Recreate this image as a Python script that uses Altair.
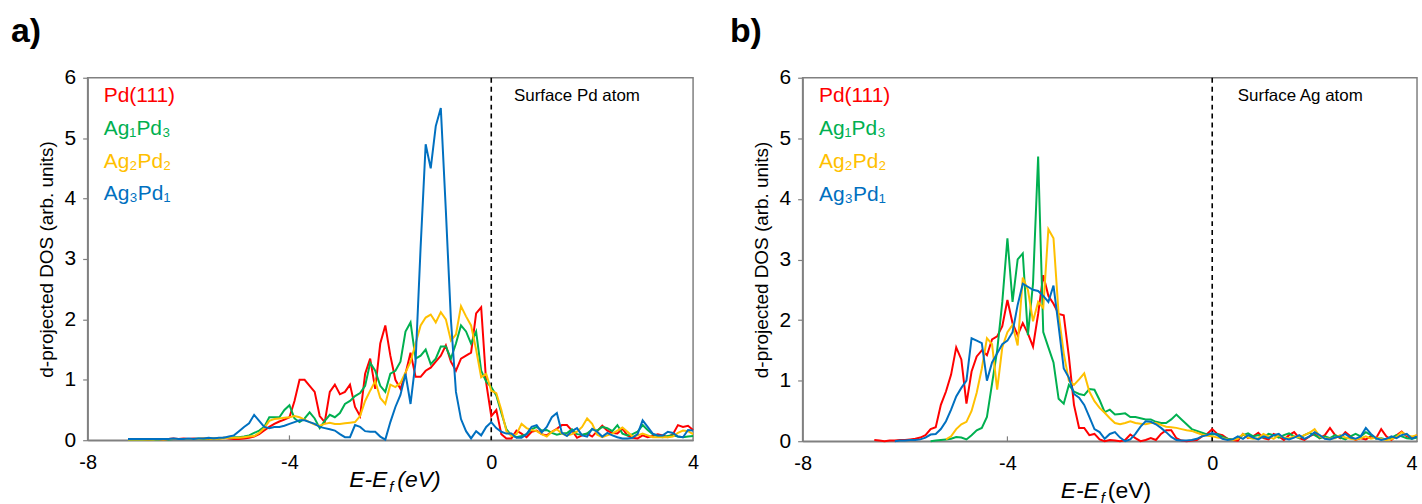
import altair as alt
import pandas as pd

FONT = "Liberation Sans"
GRAY = "#808080"

# energy grid (eV), -7.2 ... 4.0 in 0.1 steps
ENERGY = [round(-7.2 + 0.1 * i, 1) for i in range(113)]

SERIES = ["Pd(111)", "Ag\u2081Pd\u2083", "Ag\u2082Pd\u2082", "Ag\u2083Pd\u2081"]
COLORS = ["#FF0000", "#00B050", "#FFC000", "#0070C0"]
LEGEND_Y = [5.70, 5.15, 4.61, 4.07]
X_TICKS = [-8, -4, 0, 4]
Y_TICKS = [0, 1, 2, 3, 4, 5, 6]
N = None

# ---------------- panel a : surface Pd atom ----------------
A_RED = [
    0.02, 0.02,
    0.02, 0.02, 0.01, 0.02, 0.02, 0.01, 0.02, 0.03, 0.02, 0.03,
    0.02, 0.03, 0.02, 0.03, 0.02, 0.03, 0.03, 0.04, 0.03, 0.02,
    0.02, 0.03, 0.04, 0.06, 0.10, 0.16, 0.22, 0.27, 0.31, 0.34,
    0.38, 0.65, 1.00, 1.00, 0.90, 0.80, 0.40, 0.30, 0.80, 0.92,
    0.76, 0.80, 0.92, 0.55, 0.40, 1.10, 1.35, 0.85, 1.60, 1.90,
    1.40, 1.00, 0.85, 1.10, 1.45, 1.05, 1.05, 1.15, 1.20, 1.30,
    1.40, 1.57, 1.30, 1.15, 1.35, 1.40, 1.45, 2.10, 2.20, 0.95,
    0.40, 0.50, 0.10, 0.03, 0.03, 0.16, 0.11, 0.05, 0.14, 0.16,
    0.10, 0.08, 0.14, 0.19, 0.25, 0.25, 0.16, 0.04, 0.08, 0.11,
    0.06, 0.15, 0.24, 0.16, 0.12, 0.11, 0.19, 0.08, 0.04, 0.03,
    0.08, 0.05, 0.07, 0.10, 0.08, 0.05, 0.10, 0.25, 0.22, 0.24,
    0.17,
]
A_GREEN = [
    0.01, 0.01,
    0.01, 0.01, 0.01, 0.01, 0.01, 0.02, 0.01, 0.02, 0.02, 0.02,
    0.02, 0.02, 0.03, 0.02, 0.03, 0.03, 0.03, 0.04, 0.04, 0.05,
    0.05, 0.06, 0.08, 0.12, 0.16, 0.22, 0.38, 0.38, 0.38, 0.50,
    0.58, 0.36, 0.30, 0.36, 0.46, 0.36, 0.20, 0.32, 0.42, 0.38,
    0.45, 0.60, 0.65, 0.73, 0.78, 0.90, 1.28, 1.15, 0.90, 0.80,
    1.10, 1.15, 1.30, 1.80, 1.95, 1.35, 1.40, 1.50, 1.26, 1.35,
    1.55, 1.55, 1.35, 1.60, 1.90, 1.80, 1.60, 1.80, 1.15, 0.97,
    0.88, 0.74, 0.45, 0.18, 0.08, 0.05, 0.07, 0.10, 0.18, 0.22,
    0.16, 0.17, 0.12, 0.09, 0.11, 0.12, 0.18, 0.10, 0.09, 0.11,
    0.18, 0.16, 0.22, 0.20, 0.15, 0.25, 0.11, 0.08, 0.10, 0.14,
    0.25, 0.17, 0.10, 0.06, 0.05, 0.07, 0.08, 0.06, 0.05, 0.06,
    0.07,
]
A_YELLOW = [
    0.01, 0.01,
    0.01, 0.01, 0.01, 0.01, 0.02, 0.01, 0.02, 0.02, 0.02, 0.02,
    0.02, 0.02, 0.02, 0.03, 0.03, 0.02, 0.03, 0.03, 0.04, 0.04,
    0.04, 0.05, 0.06, 0.07, 0.12, 0.20, 0.32, 0.35, 0.36, 0.37,
    0.38, 0.40, 0.38, 0.34, 0.30, 0.26, 0.24, 0.27, 0.29, 0.27,
    0.27, 0.28, 0.29, 0.30, 0.40, 0.65, 0.82, 0.98, 0.70, 0.60,
    0.92, 0.88, 0.95, 1.12, 1.30, 1.60, 1.90, 2.03, 2.08, 1.95,
    2.12, 2.00, 1.65, 1.75, 2.22, 2.05, 1.90, 1.50, 1.04, 1.10,
    0.82, 0.78, 0.50, 0.15, 0.07, 0.10, 0.27, 0.20, 0.17, 0.15,
    0.10, 0.06, 0.14, 0.18, 0.11, 0.08, 0.10, 0.14, 0.22, 0.36,
    0.27, 0.09, 0.05, 0.08, 0.11, 0.16, 0.21, 0.14, 0.06, 0.08,
    0.11, 0.08, 0.05, 0.05, 0.05, 0.05, 0.06, 0.12, 0.16, 0.15,
    0.10,
]
A_BLUE = [
    0.02, 0.02,
    0.02, 0.02, 0.02, 0.02, 0.02, 0.02, 0.02, 0.03, 0.02, 0.02,
    0.03, 0.02, 0.03, 0.03, 0.04, 0.03, 0.04, 0.04, 0.06, 0.08,
    0.15, 0.22, 0.28, 0.42, 0.32, 0.22, 0.20, 0.22, 0.22, 0.24,
    0.27, 0.30, 0.33, 0.33, 0.30, 0.27, 0.22, 0.20, 0.18, 0.16,
    0.10, 0.05, 0.05, 0.25, 0.22, 0.15, 0.14, 0.14, 0.06, 0.01,
    0.30, 0.55, 0.75, 1.10, 0.60, 1.30, 3.20, 4.90, 4.50, 5.20,
    5.50, 3.80, 2.00, 0.80, 0.35, 0.15, 0.03, 0.15, 0.08, 0.22,
    0.30, 0.20, 0.14, 0.11, 0.11, 0.04, 0.04, 0.10, 0.22, 0.25,
    0.13, 0.22, 0.38, 0.45, 0.12, 0.07, 0.15, 0.20, 0.08, 0.06,
    0.19, 0.14, 0.06, 0.12, 0.08, 0.05, 0.03, 0.03, 0.04, 0.10,
    0.33, 0.22, 0.11, 0.08, 0.08, 0.14, 0.12, 0.06, 0.05, 0.17,
    0.16,
]

# ---------------- panel b : surface Ag atom ----------------
B_RED = [
    N, N,
    N, N, N, N, 0.02, 0.01, 0.00, 0.01, 0.01, 0.02,
    0.02, 0.03, 0.04, 0.06, 0.10, 0.20, 0.23, 0.60, 0.82, 1.10,
    1.55, 1.35, 0.62, 1.15, 1.40, 1.50, 1.42, 1.68, 1.73, 1.90,
    2.33, 1.95, 1.75, 1.95, 1.78, 1.56, 2.10, 2.74, 2.40, 2.27,
    2.10, 2.08, 1.40, 0.60, 0.22, 0.22, 0.10, 0.12, 0.03, 0.00,
    0.02, 0.01, 0.00, 0.02, 0.11, 0.05, 0.00, 0.02, 0.05, 0.02,
    0.12, 0.18, 0.18, 0.05, 0.01, 0.00, 0.01, 0.02, 0.08, 0.12,
    0.20, 0.12, 0.10, 0.04, 0.02, 0.01, 0.12, 0.05, 0.08, 0.14,
    0.05, 0.03, 0.12, 0.08, 0.02, 0.10, 0.15, 0.05, 0.02, 0.08,
    0.12, 0.05, 0.10, 0.22, 0.10, 0.05, 0.15, 0.08, 0.02, 0.05,
    0.03, 0.08, 0.05, 0.20, 0.08, 0.02, 0.10, 0.16, 0.08, 0.05,
    0.10,
]
B_GREEN = [
    N, N,
    N, N, N, N, N, N, N, N, N, N,
    N, N, N, N, N, 0.00, 0.01, 0.02, 0.03, 0.04,
    0.07, 0.06, 0.03, 0.10, 0.18, 0.22, 0.40, 0.95, 1.50, 2.30,
    3.35, 2.30, 3.00, 3.10, 1.75, 2.60, 4.70, 1.80, 1.55, 1.30,
    0.70, 0.62, 0.93, 0.82, 0.78, 0.76, 0.86, 0.85, 0.68, 0.48,
    0.52, 0.44, 0.45, 0.46, 0.40, 0.40, 0.38, 0.36, 0.36, 0.32,
    0.30, 0.30, 0.36, 0.44, 0.36, 0.28, 0.20, 0.17, 0.14, 0.11,
    0.11, 0.12, 0.07, 0.04, 0.03, 0.06, 0.10, 0.13, 0.08, 0.10,
    0.06, 0.12, 0.10, 0.06, 0.10, 0.13, 0.08, 0.05, 0.10, 0.14,
    0.10, 0.05, 0.08, 0.05, 0.10, 0.06, 0.03, 0.08, 0.12, 0.08,
    0.15, 0.10, 0.04, 0.05, 0.03, 0.06, 0.10, 0.08, 0.05, 0.04,
    0.06,
]
B_YELLOW = [
    N, N,
    N, N, N, N, N, N, N, N, N, N,
    N, N, N, N, N, N, N, N, 0.03, 0.08,
    0.20, 0.28, 0.32, 0.50, 0.80, 1.20, 1.70, 1.60, 0.85, 1.55,
    1.80, 1.92, 1.58, 2.70, 2.50, 1.98, 2.30, 2.20, 3.50, 3.35,
    2.10, 1.45, 1.00, 0.93, 1.02, 1.12, 0.82, 0.66, 0.55, 0.47,
    0.38, 0.30, 0.28, 0.30, 0.33, 0.30, 0.29, 0.28, 0.30, 0.30,
    0.27, 0.24, 0.23, 0.22, 0.20, 0.18, 0.17, 0.14, 0.11, 0.09,
    0.08, 0.06, 0.05, 0.03, 0.02, 0.04, 0.12, 0.06, 0.04, 0.05,
    0.12, 0.08, 0.04, 0.10, 0.06, 0.05, 0.08, 0.06, 0.10, 0.14,
    0.20, 0.08, 0.05, 0.04, 0.05, 0.10, 0.06, 0.04, 0.03, 0.05,
    0.08, 0.04, 0.06, 0.04, 0.02, 0.03, 0.07, 0.15, 0.10, 0.08,
    0.10,
]
B_BLUE = [
    N, N,
    N, N, N, N, N, N, N, N, 0.00, 0.01,
    0.01, 0.02, 0.02, 0.03, 0.06, 0.11, 0.12, 0.20, 0.33, 0.52,
    0.74, 0.88, 1.00, 1.70, 1.66, 1.62, 1.00, 1.30, 1.45, 1.60,
    1.66, 1.80, 2.25, 2.60, 2.55, 2.50, 2.48, 2.40, 2.30, 2.57,
    1.90, 1.20, 1.05, 0.78, 0.72, 0.60, 0.40, 0.20, 0.15, 0.04,
    0.12, 0.15, 0.06, 0.00, 0.03, 0.12, 0.24, 0.33, 0.32, 0.28,
    0.22, 0.15, 0.07, 0.02, 0.01, 0.01, 0.02, 0.04, 0.08, 0.10,
    0.14, 0.10, 0.04, 0.02, 0.03, 0.08, 0.04, 0.10, 0.06, 0.03,
    0.08, 0.05, 0.10, 0.12, 0.05, 0.03, 0.06, 0.10, 0.04, 0.08,
    0.15, 0.10, 0.04, 0.03, 0.06, 0.08, 0.12, 0.06, 0.04, 0.08,
    0.22, 0.12, 0.05, 0.02, 0.04, 0.08, 0.05, 0.10, 0.12, 0.04,
    0.08,
]


def make_panel(series_vals, note, letter, W, H, ev_italic, title_y, dxs, right_align_last):
    label_align = "center"
    if right_align_last:
        label_align = alt.condition("datum.value == 4", alt.value("right"), alt.value("center"))
    ax_x = alt.Axis(values=X_TICKS, title=None, grid=False, ticks=False,
                    labelFontSize=20, labelFont=FONT, labelColor="black",
                    labelPadding=12, labelExpr="'' + datum.value",
                    labelAlign=label_align,
                    domainColor=GRAY, domainWidth=1.5)
    ax_y = alt.Axis(values=Y_TICKS, title="d-projected DOS (arb. units)", grid=False,
                    tickSize=5, tickColor=GRAY, tickWidth=1.2,
                    labelFontSize=21, labelFont=FONT, labelColor="black", labelPadding=7,
                    titleFontSize=19, titleFont=FONT, titleFontWeight="normal",
                    titleColor="black", titlePadding=8,
                    domainColor=GRAY, domainWidth=1.5)
    X = alt.X("E:Q", scale=alt.Scale(domain=[-8, 4], nice=False, zero=False), axis=ax_x)
    Y = alt.Y("dos:Q", scale=alt.Scale(domain=[0, 6], nice=False), axis=ax_y)

    layers = []
    # inner x ticks
    tick_df = pd.DataFrame({"E": [-4, 0], "dos": [0, 0], "dos2": [0.08, 0.08]})
    layers.append(alt.Chart(tick_df).mark_rule(color=GRAY, strokeWidth=1.2)
                  .encode(x=X, y=Y, y2="dos2:Q"))
    # Fermi level
    layers.append(alt.Chart(pd.DataFrame({"E": [0]}))
                  .mark_rule(color="black", strokeDash=[5, 4], strokeWidth=1.6)
                  .encode(x=X))
    for vals, col in zip(series_vals, COLORS):
        df = pd.DataFrame({"E": ENERGY, "dos": vals}).dropna()
        layers.append(alt.Chart(df).mark_line(color=col, strokeWidth=2)
                      .encode(x=X, y=Y))
    leg = pd.DataFrame({"E": [-7.68] * 4, "dos": LEGEND_Y, "label": SERIES, "col": COLORS})
    layers.append(alt.Chart(leg).mark_text(align="left", baseline="middle", fontSize=21, font=FONT)
                  .encode(x=X, y=Y, text="label:N", color=alt.Color("col:N", scale=None)))
    note_df = pd.DataFrame({"E": [note[1]], "dos": [5.70], "t": [note[0]]})
    layers.append(alt.Chart(note_df).mark_text(align="left", baseline="middle", fontSize=17,
                                               font=FONT, color="black")
                  .encode(x=X, y=Y, text="t:N"))
    # x-axis title  E-E_f (eV)
    tdf = pd.DataFrame({"E": [-2], "a": ["E-E"], "b": ["f"], "c": ["(eV)"]})
    layers.append(alt.Chart(tdf).mark_text(align="right", baseline="middle", fontSize=23,
                                           font=FONT, fontStyle="italic", color="black", dx=dxs[0])
                  .encode(x=X, y=alt.value(title_y), text="a:N"))
    layers.append(alt.Chart(tdf).mark_text(align="left", baseline="middle", fontSize=15,
                                           font=FONT, fontStyle="italic", color="black", dx=dxs[1])
                  .encode(x=X, y=alt.value(title_y + 7), text="b:N"))
    layers.append(alt.Chart(tdf).mark_text(align="left", baseline="middle", fontSize=23,
                                           font=FONT, fontStyle="italic" if ev_italic else "normal",
                                           color="black", dx=dxs[2])
                  .encode(x=X, y=alt.value(title_y), text="c:N"))
    # panel letter
    ldf = pd.DataFrame({"t": [letter[0]]})
    layers.append(alt.Chart(ldf).mark_text(align="left", baseline="middle", fontSize=34,
                                           font=FONT, fontWeight="bold", color="black")
                  .encode(x=alt.value(letter[1]), y=alt.value(-46), text="t:N"))
    return alt.layer(*layers).properties(width=W, height=H)


pa = make_panel([A_RED, A_GREEN, A_YELLOW, A_BLUE], ("Surface Pd atom", 0.45), ("a)", -77),
                608, 364, True, 404, (-3, -1, 7), False)
pb = make_panel([B_RED, B_GREEN, B_YELLOW, B_BLUE], ("Surface Ag atom", 0.50), ("b)", -73),
                617, 365, False, 415, (-11, -9, -2), True)

chart = (alt.hconcat(pa, pb, spacing=29)
         .properties(padding={"left": 10, "top": 13, "right": 0, "bottom": 0}, background="white")
         .configure_view(stroke=GRAY, strokeWidth=1.5))

chart.save("out.html", embed_options={"renderer": "svg", "actions": False})
